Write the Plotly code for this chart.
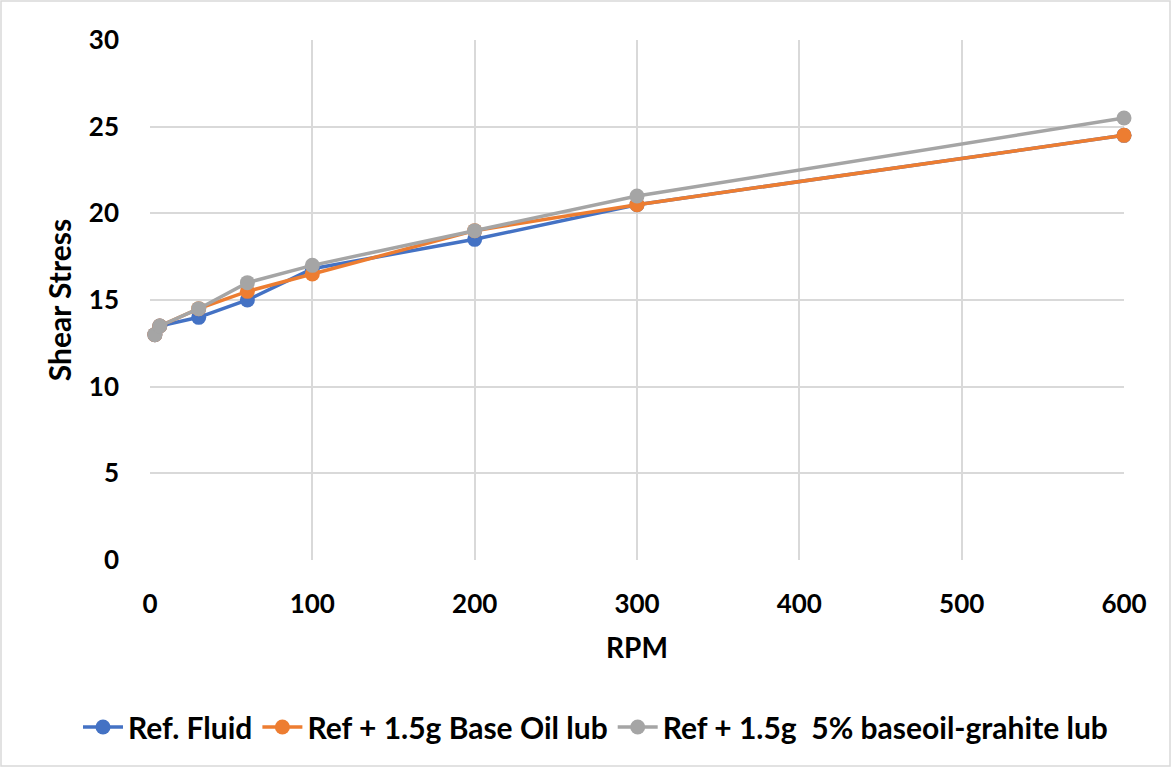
import plotly.graph_objects as go

rpm = [3, 6, 30, 60, 100, 200, 300, 600]
ref_fluid = [13, 13.5, 14, 15, 16.8, 18.5, 20.5, 24.5]
ref_base_oil = [13, 13.5, 14.5, 15.5, 16.5, 19, 20.5, 24.5]
ref_graphite = [13, 13.5, 14.5, 16, 17, 19, 21, 25.5]

series = [
    ("Ref. Fluid", ref_fluid, "#4472C4"),
    ("Ref + 1.5g Base Oil lub", ref_base_oil, "#ED7D31"),
    ("Ref + 1.5g  5% baseoil-grahite lub", ref_graphite, "#A5A5A5"),
]

FONT = "Lato, 'Liberation Sans', sans-serif"

fig = go.Figure()
for name, vals, color in series:
    fig.add_trace(go.Scatter(
        x=rpm, y=vals, name=name, mode="lines+markers",
        line=dict(color=color, width=3.5),
        marker=dict(color=color, size=15),
        cliponaxis=False,
    ))

W, H = 1171, 767
ml, mr, mt, mb = 150, 47, 40, 207
pw, ph = W - ml - mr, H - mt - mb

fig.update_layout(
    width=W, height=H,
    margin=dict(l=ml, r=mr, t=mt, b=mb),
    paper_bgcolor="white", plot_bgcolor="white",
    font=dict(family=FONT, size=26, color="black"),
    showlegend=True,
    legend=dict(
        orientation="h", x=(78 - ml) / pw, xanchor="left",
        y=(560 - 727) / ph, yanchor="middle",
        font=dict(family=FONT, size=30, color="black", weight="bold"),
        itemwidth=40, tracegroupgap=0,
    ),
    xaxis=dict(
        range=[0, 600], dtick=100, tick0=0,
        showgrid=True, gridcolor="#D9D9D9", gridwidth=1.5,
        zeroline=False, showline=False, ticks="",
        ticklabelstandoff=26,
        tickfont=dict(family=FONT, size=26, weight="bold"),
        title=dict(text="<b>RPM</b>", font=dict(family=FONT, size=28), standoff=20),
    ),
    yaxis=dict(
        range=[0, 30], dtick=5,
        showgrid=True, gridcolor="#D9D9D9", gridwidth=1.5,
        zeroline=False, showline=False, ticks="",
        ticklabelstandoff=30,
        tickfont=dict(family=FONT, size=26, weight="bold"),
        title=dict(text="<b>Shear Stress</b>", font=dict(family=FONT, size=30), standoff=8),
    ),
    shapes=[dict(
        type="rect", xref="paper", yref="paper",
        x0=(1 - ml) / pw, x1=(W - 1 - ml) / pw,
        y0=-(H - 1 - mt - ph) / ph, y1=(ph + mt - 1) / ph,
        line=dict(color="#D9D9D9", width=1.5), fillcolor="rgba(0,0,0,0)",
        layer="below",
    )],
)

fig.write_html("out.html")
